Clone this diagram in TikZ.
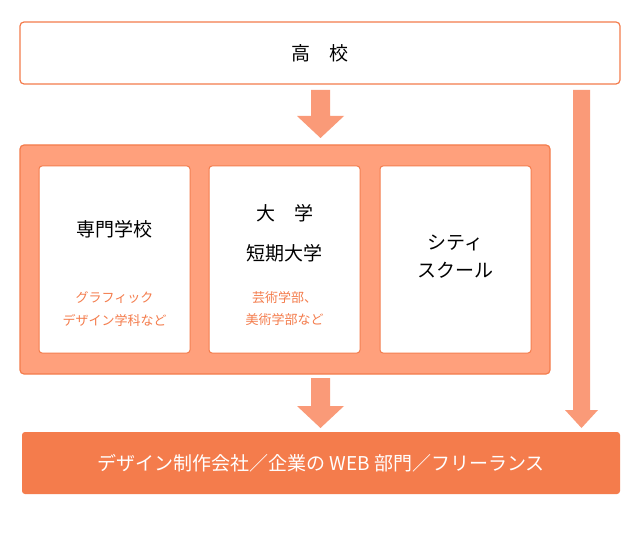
\documentclass[tikz,border=0pt]{standalone}
\usepackage{fontspec}
\newfontfamily\cjk{Noto Sans CJK JP}[Scale=1]
\begin{document}
\begin{tikzpicture}[x=1pt,y=-1pt,font=\cjk,
  edge/.style={draw=orange!70!red!60, line width=1.2pt},
  inner/.style={fill=white,draw=myor,line width=1pt,rounded corners=3pt},
  arr/.style={fill=myarr},
  big/.style={font=\cjk\fontsize{19}{22}\selectfont,text=black},
  small/.style={font=\cjk\fontsize{13}{16}\selectfont,text=myor}]
\definecolor{myor}{HTML}{F47C4C}
\definecolor{mysal}{HTML}{FFA07C}
\definecolor{myarr}{HTML}{FA9A78}
\useasboundingbox (0,0) rectangle (640,548);
\fill[white] (0,0) rectangle (640,548);
\draw[fill=white,draw=myor,line width=1.2pt,rounded corners=4pt] (20,22) rectangle (620,84);
\node[big] (hs) at (320,53) {高\quad 校};
% arrows
\fill[arr] (311,90) -- (330,90) -- (330,116) -- (344,116) -- (320.5,138) -- (297,116) -- (311,116) -- cycle;
\fill[arr] (573,90) -- (590,90) -- (590,410) -- (598,410) -- (581.5,428) -- (565,410) -- (573,410) -- cycle;
\draw[fill=mysal,draw=myor,line width=1.2pt,rounded corners=4pt] (20,145) rectangle (550,374);
\draw[inner] (39,166) rectangle (190,353);
\draw[inner] (209,166) rectangle (360,353);
\draw[inner] (380,166) rectangle (531,353);
\node[big] (a) at (114.5,229) {専門学校};
\node[small] (a2) at (114.5,298) {グラフィック};
\node[small] (a3) at (114.5,320) {デザイン学科など};
\node[big] (b) at (284.5,213) {大\quad 学};
\node[big] (b1) at (284.5,253) {短期大学};
\node[small] (b2) at (284.5,298) {芸術学部、};
\node[small] (b3) at (284.5,320) {美術学部など};
\node[big] (c) at (455.5,243) {シティ};
\node[big] (c1) at (455.5,270) {スクール};
\fill[arr] (311,378) -- (330,378) -- (330,406) -- (344,406) -- (320.5,428) -- (297,406) -- (311,406) -- cycle;
\fill[myor,rounded corners=3pt] (22,432) rectangle (620,494);
\node[big,text=white] (d) at (321,463) {デザイン制作会社／企業の WEB 部門／フリーランス};
\end{tikzpicture}
\end{document}
